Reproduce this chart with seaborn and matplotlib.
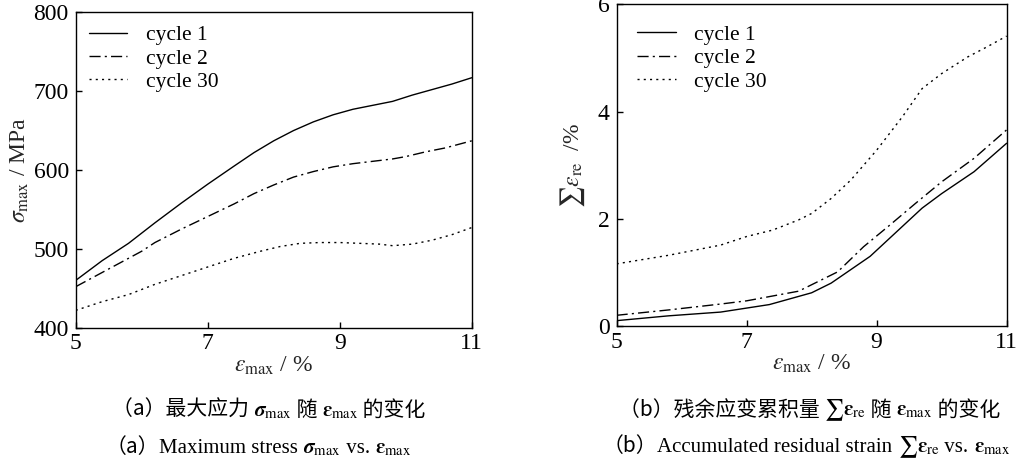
import numpy as np
import pandas as pd
import matplotlib
matplotlib.use("Agg")
import matplotlib.pyplot as plt
import seaborn as sns
from matplotlib.offsetbox import TextArea, HPacker, AnnotationBbox

# ---- data ----
x_s1 = [5.0, 5.4, 5.8, 6.2, 6.6, 7.0, 7.4, 7.7, 8.0, 8.3, 8.6, 8.9, 9.2, 9.5, 9.8, 10.1, 10.4, 10.7, 11.0]
s_c1 = [460, 485, 507, 533, 558, 582, 605, 622, 637, 650, 661, 670, 677, 682, 687, 695, 702, 709, 717]
x_s2 = [5.0, 5.4, 5.8, 6.0, 6.2, 6.6, 7.0, 7.4, 7.7, 8.0, 8.3, 8.6, 8.9, 9.2, 9.5, 9.8, 10.0, 10.3, 10.6, 11.0]
s_c2 = [452, 470, 488, 497, 508, 525, 541, 557, 570, 581, 591, 598, 604, 608, 611, 614, 617, 623, 628, 637]
x_s30 = [5.0, 5.4, 5.8, 6.2, 6.6, 7.0, 7.4, 7.8, 8.1, 8.4, 8.7, 9.0, 9.3, 9.6, 9.8, 10.1, 10.4, 10.7, 11.0]
s_c30 = [422, 433, 442, 455, 466, 477, 488, 497, 503, 507, 508, 508, 507, 506, 504, 506, 511, 518, 527]

x_r1 = [5.0, 5.8, 6.6, 7.35, 8.0, 8.3, 8.9, 9.3, 9.7, 10.0, 10.5, 11.0]
r_c1 = [0.10, 0.19, 0.26, 0.40, 0.62, 0.80, 1.30, 1.75, 2.20, 2.47, 2.88, 3.41]
x_r2 = [5.0, 5.8, 6.6, 7.0, 7.4, 7.8, 8.1, 8.4, 8.8, 9.2, 9.6, 10.0, 10.5, 11.0]
r_c2 = [0.20, 0.30, 0.41, 0.47, 0.56, 0.65, 0.83, 1.01, 1.48, 1.88, 2.29, 2.69, 3.13, 3.66]
x_r30 = [5.0, 5.8, 6.6, 7.0, 7.4, 7.8, 8.0, 8.3, 8.6, 9.0, 9.4, 9.7, 10.0, 10.4, 10.7, 11.0]
r_c30 = [1.16, 1.32, 1.51, 1.67, 1.79, 1.98, 2.10, 2.38, 2.72, 3.28, 3.91, 4.43, 4.71, 5.02, 5.21, 5.41]

labels = ["cycle 1", "cycle 2", "cycle 30"]
x_ticks = [5, 7, 9, 11]

def long_df(xs, ys):
    parts = []
    for lab, xv, yv in zip(labels, xs, ys):
        parts.append(pd.DataFrame({"x": xv, "y": yv, "cycle": lab}))
    return pd.concat(parts, ignore_index=True)

df_a = long_df([x_s1, x_s2, x_s30], [s_c1, s_c2, s_c30])
df_b = long_df([x_r1, x_r2, x_r30], [r_c1, r_c2, r_c30])

sns.set_theme(style="ticks")
plt.rcParams["font.family"] = ["Liberation Serif", "Noto Sans CJK SC", "DejaVu Sans"]
plt.rcParams["mathtext.fontset"] = "stix"
plt.rcParams["axes.linewidth"] = 1.0

dashes = {"cycle 1": "", "cycle 2": (8, 3, 1.5, 3), "cycle 30": (1.5, 3)}
palette = {lab: "black" for lab in labels}

fig = plt.figure(figsize=(10.26, 4.72), dpi=100)
ax1 = fig.add_axes([0.0738, 0.3057, 0.3860, 0.6683])
ax2 = fig.add_axes([0.6010, 0.3093, 0.3801, 0.6812])

for ax, df, bap in [(ax1, df_a, 0.25), (ax2, df_b, 0.6)]:
    sns.lineplot(data=df, x="x", y="y", hue="cycle", style="cycle",
                 palette=palette, dashes=dashes, linewidth=1.0,
                 sort=False, estimator=None, ax=ax)
    ax.set_xlim(5, 11)
    ax.set_xticks(x_ticks)
    ax.tick_params(direction="in", length=4, width=1, labelsize=17,
                   colors="black")
    ax.tick_params(axis="x", pad=4)
    ax.tick_params(axis="y", pad=5)
    for sp in ax.spines.values():
        sp.set_color("black")
    leg = ax.legend(loc="upper left", frameon=False, fontsize=15.5,
                    handlelength=1.8, handletextpad=0.85, labelspacing=0.15,
                    borderaxespad=bap, borderpad=0.35)
    for t in leg.get_texts():
        t.set_color("black")

ax1.set_ylim(400, 800)
ax1.set_yticks([400, 500, 600, 700, 800])
ax2.set_ylim(0, 6)
ax2.set_yticks([0, 2, 4, 6])

ax1.set_xlabel(r"$\varepsilon_{\rm max}$ / %", fontsize=17, labelpad=0)
ax1.set_ylabel(r"$\sigma_{\rm max}$ / MPa", fontsize=17, labelpad=2)
ax2.set_xlabel(r"$\varepsilon_{\rm max}$ / %", fontsize=17, labelpad=0)
ax2.set_ylabel(r"$\sum\varepsilon_{\rm re}$  /%", fontsize=17, labelpad=8)

CJK = "Noto Sans CJK SC"
SERIF = "Liberation Serif"
FS = 15

def caption(pieces, xy):
    boxes = [TextArea(t, textprops=dict(family=f, fontsize=FS, color="black"))
             for t, f in pieces]
    pack = HPacker(children=boxes, align="baseline", pad=0, sep=0)
    ab = AnnotationBbox(pack, xy, xycoords="figure fraction",
                        box_alignment=(0.5, 0.5), frameon=False, pad=0)
    fig.add_artist(ab)

sig = r"$\boldsymbol{\sigma}_{\rm max}$"
eps = r"$\boldsymbol{\varepsilon}_{\rm max}$"
sre = r"$\sum\boldsymbol{\varepsilon}_{\rm re}$"

caption([("（a）最大应力 ", CJK), (sig, SERIF), (" 随 ", CJK), (eps, SERIF),
         (" 的变化", CJK)], (0.262, 1 - 410 / 472))
caption([("（a）", CJK), ("Maximum stress ", SERIF), (sig, SERIF),
         (" vs. ", SERIF), (eps, SERIF)], (0.252, 1 - 447 / 472))
caption([("（b）残余应变累积量 ", CJK), (sre, SERIF), (" 随 ", CJK), (eps, SERIF),
         (" 的变化", CJK)], (0.789, 1 - 410 / 472))
caption([("（b）", CJK), ("Accumulated residual strain ", SERIF), (sre, SERIF),
         (" vs. ", SERIF), (eps, SERIF)], (0.786, 1 - 447 / 472))

fig.savefig("out.png", dpi=100)
